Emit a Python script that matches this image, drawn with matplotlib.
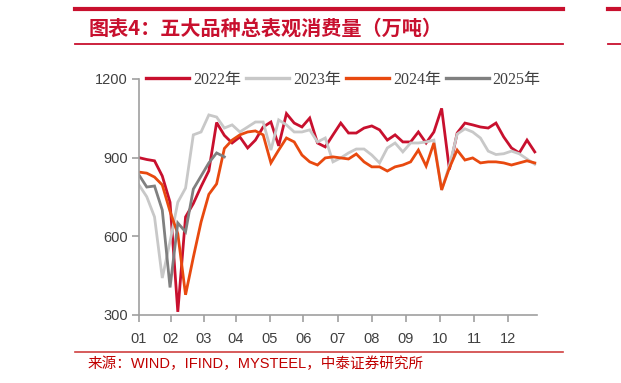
import matplotlib
matplotlib.use("Agg")
import matplotlib.pyplot as plt
from matplotlib.font_manager import FontProperties
from matplotlib.lines import Line2D

# ---- data ----
series_names = ["2022年", "2023年", "2024年", "2025年"]
y2022 = [900, 893, 888, 830, 730, 312, 674, 725, 790, 850, 1034, 985, 956, 979, 937, 967,
         1017, 1036, 945, 1068, 1032, 1017, 1051, 956, 941, 987, 1032, 994, 994, 1013, 1021,
         1006, 967, 987, 960, 960, 998, 956, 998, 1088, 855, 994, 1032, 1025, 1017, 1013,
         1032, 979, 937, 918, 967, 922]
y2023 = [796, 751, 674, 441, 580, 730, 784, 987, 998, 1063, 1055, 1013, 1025, 998, 1017, 1036,
         1036, 929, 1044, 1025, 998, 998, 1006, 960, 975, 884, 899, 918, 933, 933, 910,
         880, 937, 956, 922, 956, 956, 960, 967, 777, 870, 990, 1010, 998, 975, 925,
         912, 915, 925, 915, 895, 875]
y2024 = [845, 841, 826, 796, 695, 610, 377, 520, 655, 760, 800, 935, 967, 987, 998, 1002,
         987, 880, 929, 975, 960, 910, 884, 872, 899, 903, 899, 895, 914, 884, 865,
         865, 849, 865, 872, 884, 929, 868, 956, 777, 861, 929, 891, 899, 880, 884,
         884, 880, 872, 880, 888, 880]
y2025 = [834, 788, 792, 700, 405, 651, 617, 780, 830, 880, 918, 903]
month_labels = ["01", "02", "03", "04", "05", "06", "07", "08", "09", "10", "11", "12"]
y_ticks = [300, 600, 900, 1200]

# ---- style ----
colors = ["#c8102e", "#c8c8c8", "#e8490f", "#808080"]
W, H = 621, 383
fig = plt.figure(figsize=(W / 100, H / 100), dpi=100)

x0, x1, yt, yb = 139, 537, 79, 315
ax = fig.add_axes([x0 / W, 1 - yb / H, (x1 - x0) / W, (yb - yt) / H])

px_per_week = 7.76
month_px = [139, 171, 204, 236, 270, 303.3, 337.7, 371.7, 406, 440, 474, 508.3]
month_pos = [(p - x0) / px_per_week for p in month_px]

for name, ys, c in zip(series_names, [y2022, y2023, y2024, y2025], colors):
    ax.plot(range(len(ys)), ys, color=c, lw=2.0, label=name, solid_joinstyle="miter")

ax.set_xlim(0, (x1 - x0) / px_per_week)
ax.set_ylim(300, 1200)
ax.set_yticks(y_ticks)
ax.set_xticks(month_pos)
ax.set_xticklabels(month_labels)
for s in ["top", "right"]:
    ax.spines[s].set_visible(False)
for s in ["left", "bottom"]:
    ax.spines[s].set_color("#a0a0a0")
    ax.spines[s].set_linewidth(1.2)
ax.tick_params(axis="both", direction="out", length=5, width=1.2, color="#a0a0a0",
               labelcolor="#404040", labelsize=10.5)
ax.tick_params(axis="y", pad=3)
ax.tick_params(axis="x", pad=7)
for lab in ax.get_xticklabels() + ax.get_yticklabels():
    lab.set_family(["Liberation Sans", "DejaVu Sans"])

# legend
leg_prop = FontProperties(family=["Liberation Serif", "Noto Sans CJK SC"], size=11.5)
leg = ax.legend(loc="center left", bbox_to_anchor=(146 / W, 1 - 80 / H),
                bbox_transform=fig.transFigure, ncol=4, frameon=False, prop=leg_prop,
                handlelength=2.7, handletextpad=0.25, columnspacing=0.3, borderpad=0,
                borderaxespad=0)
for t in leg.get_texts():
    t.set_color("#404040")
for l in leg.get_lines():
    l.set_linewidth(2.4)

# header
red = "#c8102e"
fig.add_artist(Line2D([75 / W, 563 / W], [1 - 9 / H, 1 - 9 / H], color=red, lw=3))
fig.add_artist(Line2D([75 / W, 563 / W], [1 - 44 / H, 1 - 44 / H], color=red, lw=1.3))
fig.add_artist(Line2D([608 / W, 1], [1 - 9 / H, 1 - 9 / H], color=red, lw=3))
fig.add_artist(Line2D([608 / W, 1], [1 - 44 / H, 1 - 44 / H], color=red, lw=1.3))
fig.text(89 / W, 1 - 28 / H, "图表4：五大品种总表观消费量（万吨）", color=red,
         fontsize=14.5, fontweight="bold", va="center", ha="left",
         family=["Noto Sans CJK SC", "DejaVu Sans"])

# footer
fig.add_artist(Line2D([75 / W, 563 / W], [1 - 352 / H, 1 - 352 / H], color="#d04040", lw=1.2))
fig.text(88 / W, 1 - 364 / H, "来源：WIND，IFIND，MYSTEEL，中泰证券研究所", color="#c00000",
         fontsize=10.5, va="center", ha="left",
         family=["Liberation Sans", "Noto Sans CJK SC"])

fig.savefig("out.png", dpi=100)
